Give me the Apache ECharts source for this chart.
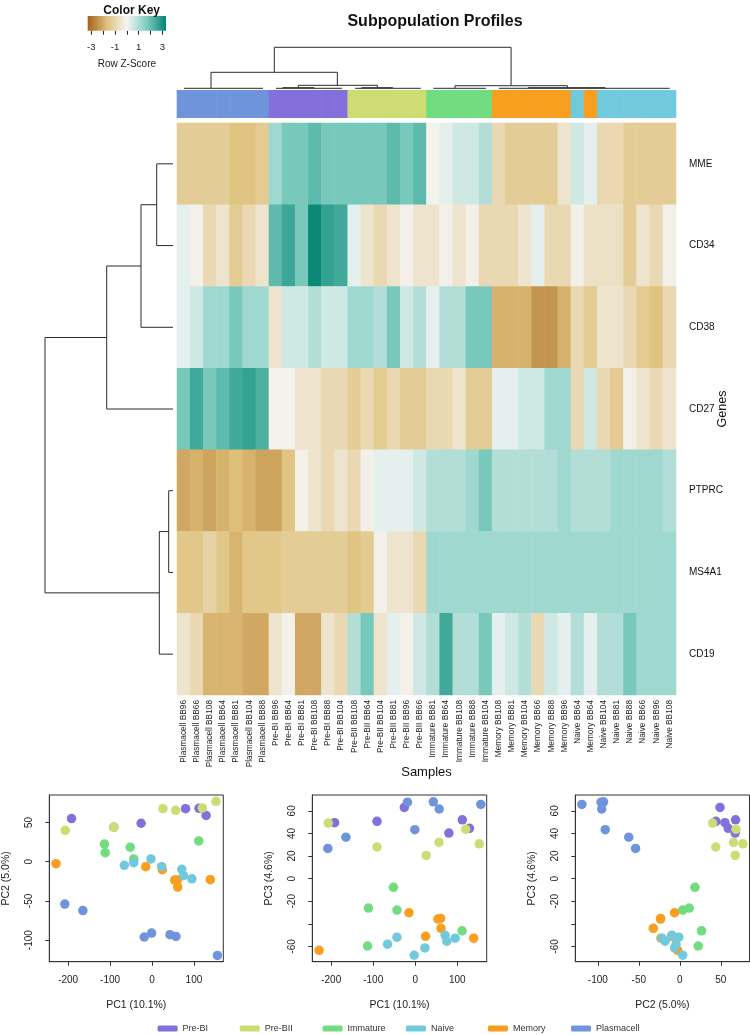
<!DOCTYPE html>
<html><head><meta charset="utf-8">
<script src="https://cdn.jsdelivr.net/npm/echarts@6/dist/echarts.min.js"></script>
<style>html,body{margin:0;padding:0;background:#fff}#c{width:750px;height:1035px}</style>
</head><body><div id="c"></div>
<script>
// ---------------- DATA ----------------
const samples = [
 'Plasmacell BB96','Plasmacell BB66','Plasmacell BB108','Plasmacell BB64','Plasmacell BB81','Plasmacell BB104','Plasmacell BB88',
 'Pre-BI BB96','Pre-BI BB64','Pre-BI BB81','Pre-BI BB108','Pre-BI BB88','Pre-BI BB104',
 'Pre-BII BB108','Pre-BII BB64','Pre-BII BB104','Pre-BII BB81','Pre-BII BB96','Pre-BII BB66',
 'Immature BB81','Immature BB64','Immature BB108','Immature BB88','Immature BB104',
 'Memory BB108','Memory BB81','Memory BB104','Memory BB66','Memory BB88','Memory BB96',
 'Naive BB64','Memory BB64','Naive BB104','Naive BB81','Naive BB88','Naive BB66','Naive BB96','Naive BB108'
];
const genes = ['MME','CD34','CD38','CD27','PTPRC','MS4A1','CD19'];
const zMME   = [-1.2,-1.2,-1.2,-1.2,-1.45,-1.45,-1.25, 1.1,1.6,1.6,1.9,1.6,1.6, 1.6,1.6,1.6,1.9,1.6,1.9, -0.1,0.2,0.5,0.5,0.85, -0.85,-1.2,-1.2,-1.2,-1.2,-0.5, 0.5,0.2,-0.85,-0.85,-1.2,-1.2,-1.2,-1.2];
const zCD34  = [0.2,-0.15,-0.85,-0.5,-1.25,-0.85,-0.5, 1.9,2.3,1.6,2.9,2.4,2.25, 0.2,-0.5,-0.85,-0.5,-0.15,-0.5, -0.5,-0.15,-0.5,-0.15,-0.85, -0.85,-0.85,-0.5,0.2,-0.85,-0.85, -0.15,-0.6,-0.6,-0.6,-1.2,-0.5,-0.85,-0.15];
const zCD38  = [0.2,0.5,1.1,1.1,1.6,1.1,1.1, -0.5,0.5,0.5,0.85,0.5,0.5, 1.1,1.1,0.85,1.6,0.5,0.85, 0.2,0.85,0.85,1.6,1.6, -1.75,-1.75,-1.75,-2.2,-2.2,-1.75, -0.85,-1.25,-0.5,-0.5,-0.85,-1.25,-1.45,-0.85];
const zCD27  = [1.6,2.25,1.6,1.9,2.25,2.4,2.1, -0.1,-0.1,-0.5,-0.5,-0.85,-0.85, -1.2,-0.85,-1.25,-0.85,-1.2,-1.2, -0.85,-0.85,-0.5,-1.2,-1.2, 0.2,0.2,0.5,0.5,1.1,1.1, -0.85,0.5,-0.85,-1.25,-0.15,-0.5,-0.85,-0.5];
const zPTPRC = [-1.9,-1.75,-1.95,-1.75,-1.55,-1.75,-1.95, -1.95,-1.45,-0.15,-0.5,-0.85,-0.5, -0.85,-0.15,0.2,0.2,0.2,0.5, 0.85,0.85,0.85,1.1,1.6, 0.85,0.85,0.85,0.85,0.85,1.1, 0.85,0.85,0.85,1.1,1.1,1.1,1.1,0.85];
const zMS4A1 = [-1.35,-1.35,-1.0,-1.35,-1.7,-1.35,-1.35, -1.35,-1.2,-1.2,-1.2,-1.2,-1.2, -1.45,-1.25,-0.15,-0.5,-0.5,-0.85, 1.1,1.1,1.1,1.1,1.1, 1.1,1.1,1.1,1.1,1.1,1.1, 1.1,1.1,1.1,1.1,1.1,1.1,1.1,1.1];
const zCD19  = [-0.5,-0.85,-1.7,-1.7,-1.7,-1.9,-1.9, -0.5,-0.15,-1.9,-1.9,-0.5,-0.85, 0.85,1.6,-0.5,0.2,-0.15,0.5, 0.85,2.25,0.85,0.85,1.6, 0.2,0.5,0.85,-0.85,0.5,0.2, 0.85,0.2,0.85,0.85,1.6,1.1,1.1,1.1];
const keyTicks = [-3,-2,-1,0,1,2,3];
const keyLabels = [-3,-1,1,3];

const groups = ['Pre-BI','Pre-BII','Immature','Naive','Memory','Plasmacell'];
const groupColors = ['#8470dc','#cedd73','#71dc80','#71c9dc','#f99e1e','#7094dc'];

// row dendrogram (hclust style merges: negative = leaf index in genes order, positive = merge number; height)
const rowMerges = [[-1,-2,20.3],[1,-3,36],[2,-4,70.3],[-5,-6,8.3],[4,-7,17.7],[3,5,132]];
// column dendrogram segments [x1, h1, x2, h2] in column units / heights
const colDendro = [
 [7.41,42.7,25.44,42.7],[7.41,42.7,7.41,17.7],[25.44,42.7,25.44,4.3],
 [2.59,17.7,12.21,17.7],[2.59,17.7,2.59,1.7],[12.21,17.7,12.21,4.7],
 [0.53,1.7,6.55,1.7],
 [9.24,4.7,15.26,4.7],[9.24,4.7,9.24,2.3],[15.26,4.7,15.26,2.3],
 [7.54,1.7,12.57,1.7],[8.05,2.3,10.43,2.3],[8.05,2.3,8.05,1.7],[10.43,2.3,10.43,1.7],
 [13.56,1.7,18.56,1.7],[14.07,2.3,16.43,2.3],[14.07,2.3,14.07,1.7],[16.43,2.3,16.43,1.7],
 [21.17,4.3,29.73,4.3],[21.17,4.3,21.17,1.7],[29.73,4.3,29.73,2.3],
 [19.52,1.7,23.53,1.7],
 [26.75,2.3,32.6,2.3],[26.75,2.3,26.75,1.7],[32.6,2.3,32.6,1.7],[24.52,1.7,37.52,1.7]
];

// PCA scores [PC1, PC2, PC3]
const pcPreBI = [[-192,55,49.5],[-91,44,50.7],[-26,49,63],[80,67.5,40.3],[112,68,52],[129,59,44.5]];
const pcPreBII = [[-207,40,49.2],[-91,43.8,28],[26,67.6,20.5],[56.5,65.5,32],[120,68.5,43.7],[152.5,77,30.8]];
const pcImmature = [[-113.5,22.5,-59.6],[-111.5,11.5,-26],[-52,18.5,-7.7],[-43.5,3.5,-27.8],[111.5,26.5,-46.2]];
const pcNaive = [[-66,-4.6,-58],[-43.5,-1.3,-51.8],[-2.5,3.5,-67.8],[23,-6.4,-61.3],[71,-9.8,-50],[75,-17.9,-55.4],[95,-21.8,-52.7]];
const pcMemory = [[-229,-2.6,-63.4],[-15,-6.4,-30.2],[24.6,-10.3,-51],[54,-23.5,-35.8],[60.4,-23.5,-35.2],[61.3,-32.4,-44],[139,-23,-52.7]];
const pcPlasmacell = [[-208,-54,26.7],[-165,-62.3,36.7],[-18.5,-96,67.6],[-1,-91,43.3],[43,-93,68],[57,-95.3,61.6],[156,-119.5,65.7]];
const pc1Ticks = [-200,-100,0,100];
const pc2Ticks = [-100,-50,0,50];
const pc3Ticks = [-60,-40,-20,0,20,40,60];
const pc3Labels = [-60,-20,0,20,40,60];

// ---------------- CHART ----------------
const FONT = "'Liberation Sans', Arial, Helvetica, sans-serif";
const BRBG = ['#a6611a','#dfc27d','#f5f5f5','#80cdc1','#018571'];
const zRows = [zMME,zCD34,zCD38,zCD27,zPTPRC,zMS4A1,zCD19];
const heatData = [];
zRows.forEach((row,r)=>row.forEach((v,c)=>heatData.push([c,r,v])));
const groupOf = s => s.split(' ')[0];
const colorOf = g => groupColors[groups.indexOf(g)];

function rowDendroSegs(merges, leafH){
  const pos=[], hgt=[], segs=[];
  const get = k => k<0 ? [(-k-1)+0.5, leafH] : [pos[k-1], hgt[k-1]];
  merges.forEach(([a,b,h])=>{
    const [pa,ha]=get(a), [pb,hb]=get(b);
    segs.push([ha,pa,h,pa],[hb,pb,h,pb],[h,pa,h,pb]);
    pos.push((pa+pb)/2); hgt.push(h);
  });
  return segs;
}
function segRender(params, api){
  const p1 = api.coord([api.value(0), api.value(1)]);
  const p2 = api.coord([api.value(2), api.value(3)]);
  return {type:'line', shape:{x1:p1[0],y1:p1[1],x2:p2[0],y2:p2[1]}, style:{stroke:'#2a2a2a', lineWidth:1}};
}
const hidden = {show:false};
function hAxis(grid, type, extra){ return Object.assign({type, gridIndex:grid, show:false}, extra||{}); }

const P = [
  {left:49.3, width:174, xi:0, yi:1, xmin:-245, xmax:170, ymin:-127.5, ymax:85, xt:pc1Ticks, xl:pc1Ticks, yt:pc2Ticks, yl:pc2Ticks, xn:'PC1 (10.1%)', yn:'PC2 (5.0%)'},
  {left:312.3, width:174.4, xi:0, yi:2, xmin:-245, xmax:170, ymin:-73.5, ymax:74, xt:pc1Ticks, xl:pc1Ticks, yt:pc3Ticks, yl:pc3Labels, xn:'PC1 (10.1%)', yn:'PC3 (4.6%)'},
  {left:575.3, width:174.2, xi:1, yi:2, xmin:-127.5, xmax:85, ymin:-73.5, ymax:74, xt:pc2Ticks, xl:pc2Ticks, yt:pc3Ticks, yl:pc3Labels, xn:'PC2 (5.0%)', yn:'PC3 (4.6%)'}
];

const grids = [
  {left:177, top:123, width:499, height:572},     // 0 heatmap
  {left:177, top:90, width:499, height:28},       // 1 color bar
  {left:177, top:40, width:499, height:50},       // 2 col dendro
  {left:37, top:123, width:140, height:572},      // 3 row dendro
  {left:87.7, top:16, width:78.3, height:14.7}    // 4 color key
];
P.forEach(p=>grids.push({left:p.left, top:795, width:p.width, height:166.7, show:true, borderColor:'#333', borderWidth:1}));
grids.forEach(g=>{ g.outerBoundsMode = 'none'; g.containLabel = false; });

const xAxes = [
  {type:'category', gridIndex:0, data:samples, axisLine:hidden, axisTick:hidden,
   axisLabel:{rotate:90, fontSize:8.3, margin:5, interval:0, color:'#222', fontFamily:FONT},
   name:'Samples', nameLocation:'middle', nameGap:71, nameMoveOverlap:false, nameTextStyle:{fontSize:13, color:'#111', fontFamily:FONT}},
  hAxis(1,'category',{data:samples}),
  hAxis(2,'value',{min:0,max:38}),
  hAxis(3,'value',{min:0,max:140,inverse:true}),
  {type:'value', gridIndex:4, min:-3.3, max:3.3, axisLine:hidden, splitLine:hidden,
   axisTick:{show:true, length:4, customValues:keyTicks, lineStyle:{color:'#222'}},
   axisLabel:{customValues:keyLabels, fontSize:9.5, margin:12, color:'#222', fontFamily:FONT},
   name:'Row Z-Score', nameLocation:'middle', nameGap:29, nameTextStyle:{fontSize:10, color:'#222', fontFamily:FONT}}
];
const yAxes = [
  {type:'category', gridIndex:0, data:genes, inverse:true, position:'right', axisLine:hidden, axisTick:hidden,
   axisLabel:{fontSize:10, margin:13, color:'#111', fontFamily:FONT},
   name:'Genes', nameLocation:'middle', nameRotate:90, nameGap:40, nameMoveOverlap:false, nameTextStyle:{fontSize:12.5, color:'#111', fontFamily:FONT}},
  hAxis(1,'category',{data:['bar']}),
  hAxis(2,'value',{min:0,max:50}),
  hAxis(3,'value',{min:0,max:7,inverse:true}),
  hAxis(4,'value',{min:0,max:1})
];
P.forEach((p,i)=>{
  const g = 5+i;
  xAxes.push({type:'value', gridIndex:g, min:p.xmin, max:p.xmax, splitLine:hidden,
    axisLine:{show:true, onZero:false, lineStyle:{color:'#333'}},
    axisTick:{show:true, length:4, customValues:p.xt, lineStyle:{color:'#333'}},
    axisLabel:{customValues:p.xl, fontSize:10, margin:14, color:'#222', fontFamily:FONT},
    name:p.xn, nameLocation:'middle', nameGap:38, nameTextStyle:{fontSize:10.5, color:'#222', fontFamily:FONT}});
  yAxes.push({type:'value', gridIndex:g, min:p.ymin, max:p.ymax, splitLine:hidden,
    axisLine:{show:true, onZero:false, lineStyle:{color:'#333'}},
    axisTick:{show:true, length:4, customValues:p.yt, lineStyle:{color:'#333'}},
    axisLabel:{customValues:p.yl, fontSize:10, margin:15, rotate:90, color:'#222', fontFamily:FONT},
    name:p.yn, nameLocation:'middle', nameRotate:90, nameGap:38, nameTextStyle:{fontSize:10.5, color:'#222', fontFamily:FONT}});
});

const series = [
  {type:'heatmap', xAxisIndex:0, yAxisIndex:0, data:heatData, itemStyle:{borderWidth:0}, emphasis:{disabled:true}},
  {type:'custom', xAxisIndex:1, yAxisIndex:1, silent:true,
   data:samples.map((s,i)=>[i,0]),
   renderItem:(params, api)=>{
     const c = api.coord([api.value(0), api.value(1)]);
     const sz = api.size([1,1]);
     return {type:'rect', shape:{x:c[0]-sz[0]/2-0.3, y:c[1]-sz[1]/2, width:sz[0]+0.6, height:sz[1]},
       style:{fill:colorOf(groupOf(samples[params.dataIndex]))}};
   }},
  {type:'custom', xAxisIndex:2, yAxisIndex:2, data:colDendro, encode:{x:[0,2], y:[1,3]}, renderItem:segRender, silent:true},
  {type:'custom', xAxisIndex:3, yAxisIndex:3, data:rowDendroSegs(rowMerges,4), encode:{x:[0,2], y:[1,3]}, renderItem:segRender, silent:true},
  {type:'custom', xAxisIndex:4, yAxisIndex:4, data:[[-3.3,3.3]], encode:{x:[0,1]}, silent:true,
   renderItem:(params, api)=>{
     const a = api.coord([api.value(0),1]), b = api.coord([api.value(1),0]);
     return {type:'rect', shape:{x:a[0], y:a[1], width:b[0]-a[0], height:b[1]-a[1]},
       style:{fill:new echarts.graphic.LinearGradient(0,0,1,0, BRBG.map((c,i)=>({offset:i/(BRBG.length-1), color:c})))}};
   }}
];
const pcSets = {'Pre-BI':pcPreBI,'Pre-BII':pcPreBII,'Immature':pcImmature,'Memory':pcMemory,'Naive':pcNaive,'Plasmacell':pcPlasmacell};
['Pre-BI','Pre-BII','Immature','Memory','Naive','Plasmacell'].forEach(g=>{
  P.forEach((p,i)=>{
    series.push({type:'scatter', name:g, xAxisIndex:5+i, yAxisIndex:5+i, symbolSize:9.5,
      itemStyle:{color:colorOf(g), opacity:1}, data:pcSets[g].map(v=>[v[p.xi], v[p.yi]])});
  });
});

const legendX = [157.6, 239.7, 322.6, 405.9, 488, 571];
const legends = groups.map((g,i)=>({left:legendX[i], top:1024, data:[g], icon:'roundRect', itemWidth:20, itemHeight:6,
  itemGap:0, padding:0, textStyle:{fontSize:9, color:'#333', fontFamily:FONT}}));

const option = {
  animation:false,
  backgroundColor:'#fff',
  textStyle:{fontFamily:FONT},
  title:[
    {text:'Subpopulation Profiles', left:430, top:9, textAlign:'center', textStyle:{fontSize:16, fontWeight:'bold', color:'#111', fontFamily:FONT}},
    {text:'Color Key', left:126.7, top:0, textAlign:'center', textStyle:{fontSize:12, fontWeight:'bold', color:'#111', fontFamily:FONT}}
  ],
  grid:grids, xAxis:xAxes, yAxis:yAxes,
  visualMap:{type:'continuous', show:false, min:-3, max:3, seriesIndex:0, dimension:2, inRange:{color:BRBG}},
  legend:legends,
  series
};
const chart = echarts.init(document.getElementById('c'));
chart.setOption(option);
</script>
</body></html>
